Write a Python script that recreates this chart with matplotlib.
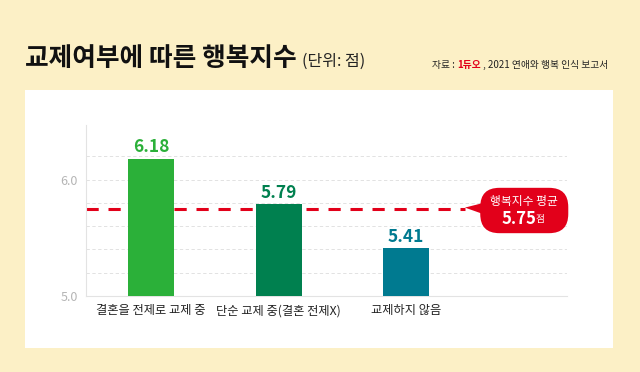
import matplotlib.pyplot as plt
from matplotlib.patches import FancyBboxPatch, Polygon

plt.rcParams['font.family'] = ['Noto Sans CJK KR', 'DejaVu Sans']

# 데이터
categories = ['결혼을 전제로 교제 중', '단순 교제 중(결혼 전제X)', '교제하지 않음']
values = [6.18, 5.79, 5.41]
avg_value = 5.75
bar_colors = ['#2bb039', '#00804f', '#007a90']

BG = '#fcf0c6'
RED = '#e2001a'

fig = plt.figure(figsize=(6.4, 3.72), dpi=100)
fig.patch.set_facecolor(BG)

# 흰색 패널
panel = fig.add_axes([25/640, 1-348/372, 588/640, 258/372])
panel.set_facecolor('white')
panel.set_xticks([]); panel.set_yticks([])
for s in panel.spines.values():
    s.set_visible(False)

# 차트 영역
ax = fig.add_axes([86/640, 1-296/372, (567-86)/640, (296-125)/372])
ax.set_facecolor('none')
x = range(len(values))
ax.bar(x, values, width=0.36, color=bar_colors, zorder=3, bottom=0)
ax.set_ylim(5.0, 6.47)
ax.set_xlim(-0.51, 3.26)

for gy in [5.2, 5.4, 5.6, 5.8, 6.0, 6.2]:
    ax.axhline(gy, color='#dddddd', lw=0.6, ls=(0, (4, 3)), zorder=1)

ax.set_yticks([5.0, 6.0])
ax.set_yticklabels(['5.0', '6.0'], color='#b5b5b5', fontsize=9)
ax.set_xticks(list(x))
ax.set_xticklabels(categories, fontsize=8.8, color='#222222')
ax.tick_params(length=0, pad=6)
for s in ['top', 'right']:
    ax.spines[s].set_visible(False)
ax.spines['left'].set_color('#e3e3e3')
ax.spines['bottom'].set_color('#e3e3e3')

for i, v in enumerate(values):
    ax.text(i, v + 0.02, '%.2f' % v, ha='center', va='bottom', fontsize=12.5,
            fontweight='bold', color=bar_colors[i], zorder=4)

# 평균선
ax.plot([-0.51, 2.46], [avg_value, avg_value], color=RED, lw=2.2,
        ls=(0, (4, 3.2)), zorder=2)

# 말풍선
bubble = FancyBboxPatch((2.58, 5.54), 0.69, 0.39,
                        boxstyle='round,pad=0,rounding_size=0.15',
                        mutation_aspect=1.1, fc=RED, ec='none',
                        transform=ax.transData, clip_on=False, zorder=5)
ax.add_patch(bubble)
ax.add_patch(Polygon([[2.46, avg_value + 0.01], [2.64, 5.81], [2.64, 5.69]],
                     closed=True, fc=RED, ec='none', clip_on=False, zorder=5))
ax.text(2.92, 5.815, '행복지수 평균', ha='center', va='center', color='white',
        fontsize=8.5, zorder=6)
ax.text(2.88, 5.665, '5.75', ha='center', va='center', color='white',
        fontsize=12, fontweight='bold', zorder=6)
ax.text(3.05, 5.66, '점', ha='center', va='center', color='white',
        fontsize=7, zorder=6)

# 제목
fig.text(25/640, 1-59/372, '교제여부에 따른 행복지수', fontsize=18.5,
         fontweight='bold', va='center', color='#111111')
fig.text(302/640, 1-61/372, '(단위: 점)', fontsize=11.5, va='center', color='#222222')

# 출처
t1 = fig.text(432/640, 1-65/372, '자료 : ', fontsize=7, va='center', color='#222222')
fig.canvas.draw()
r = fig.canvas.get_renderer()
bb = t1.get_window_extent(r)
t2 = fig.text(bb.x1/640, 1-65/372, '1듀오', fontsize=7, fontweight='bold',
              va='center', color=RED)
bb2 = t2.get_window_extent(r)
fig.text(bb2.x1/640, 1-65/372, ' , 2021 연애와 행복 인식 보고서', fontsize=7,
         va='center', color='#222222')

fig.savefig('out.png', dpi=100, facecolor=BG)
